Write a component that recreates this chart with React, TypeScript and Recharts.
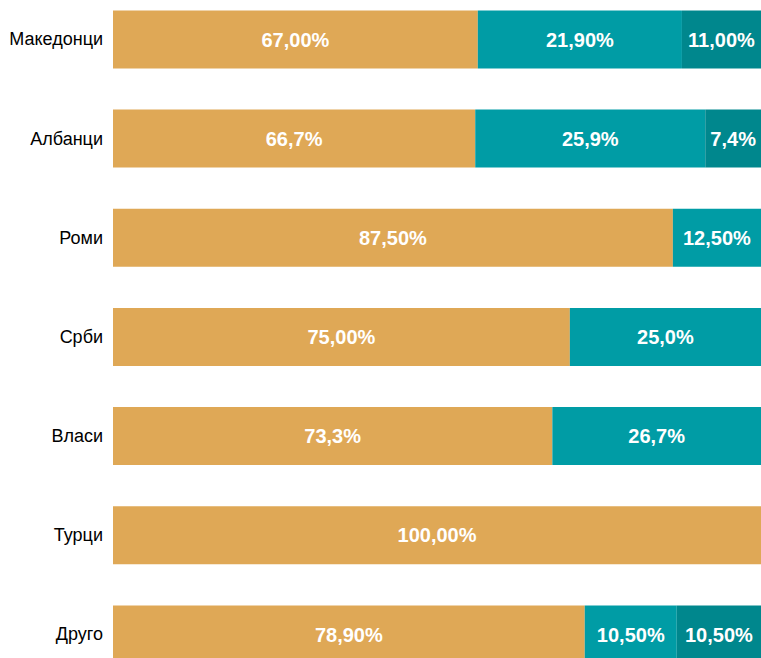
import React from 'react';
import { BarChart, Bar, XAxis, YAxis, LabelList } from 'recharts';

// groups, top to bottom
const groups = ['Македонци', 'Албанци', 'Роми', 'Срби', 'Власи', 'Турци', 'Друго'];

// segment lengths as drawn (share of the full bar)
const firstShare = [56.3, 55.9, 86.4, 70.5, 67.8, 100, 72.8];
const secondShare = [31.5, 35.5, 13.6, 29.5, 32.2, 0, 14.2];
const thirdShare = [12.2, 8.6, 0, 0, 0, 0, 13.0];

// printed labels on the segments
const firstLabels = ['67,00%', '66,7%', '87,50%', '75,00%', '73,3%', '100,00%', '78,90%'];
const secondLabels = ['21,90%', '25,9%', '12,50%', '25,0%', '26,7%', '', '10,50%'];
const thirdLabels = ['11,00%', '7,4%', '', '', '', '', '10,50%'];

const colors = {
  first: '#DFA856',
  second: '#009CA5',
  third: '#00878D',
};

const data = groups.map((name, i) => ({
  name,
  a: firstShare[i],
  b: secondShare[i],
  c: thirdShare[i],
  la: firstLabels[i],
  lb: secondLabels[i],
  lc: thirdLabels[i],
}));

const font = '"Liberation Sans", Arial, sans-serif';

const labelStyle = {
  fill: '#ffffff',
  fontSize: 20,
  fontWeight: 700,
  fontFamily: font,
};

const App = () => {
  return (
    <div style={{ width: 761, height: 658, overflow: 'hidden' }}>
      <style>{`body { margin: 0; }`}</style>
      <BarChart
        width={761}
        height={658}
        layout="vertical"
        data={data}
        margin={{ top: -10.6, right: 0, left: 0, bottom: -25.6 }}
        barSize={58}
      >
        <XAxis type="number" domain={[0, 100]} hide />
        <YAxis
          type="category"
          dataKey="name"
          width={113}
          axisLine={false}
          tickLine={false}
          tickMargin={4}
          tick={{ fill: '#000000', fontSize: 18, fontFamily: font }}
        />
        <Bar dataKey="a" stackId="s" fill={colors.first} isAnimationActive={false}>
          <LabelList dataKey="la" position="center" style={labelStyle} />
        </Bar>
        <Bar dataKey="b" stackId="s" fill={colors.second} isAnimationActive={false}>
          <LabelList dataKey="lb" position="center" style={labelStyle} />
        </Bar>
        <Bar dataKey="c" stackId="s" fill={colors.third} isAnimationActive={false}>
          <LabelList dataKey="lc" position="center" style={labelStyle} />
        </Bar>
      </BarChart>
    </div>
  );
};

export default App;
